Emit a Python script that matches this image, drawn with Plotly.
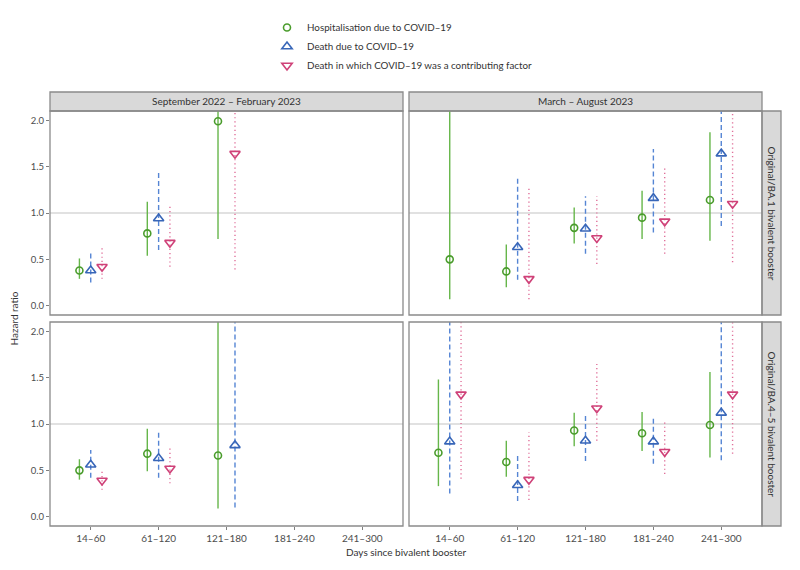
import plotly.graph_objects as go

categories = ["14–60", "61–120", "121–180", "181–240", "241–300"]
periods = ["September 2022 – February 2023", "March – August 2023"]
boosters = ["Original/BA.1 bivalent booster", "Original/BA.4–5 bivalent booster"]
outcomes = ["Hospitalisation due to COVID–19", "Death due to COVID–19",
            "Death in which COVID–19 was a contributing factor"]

# ---- Original/BA.1, September 2022 – February 2023
ba1_p1_hosp_hr = [0.38, 0.78, 1.99, None, None]
ba1_p1_hosp_lo = [0.29, 0.54, 0.72, None, None]
ba1_p1_hosp_hi = [0.51, 1.12, 2.60, None, None]
ba1_p1_death_hr = [0.38, 0.94, None, None, None]
ba1_p1_death_lo = [0.25, 0.60, None, None, None]
ba1_p1_death_hi = [0.57, 1.46, None, None, None]
ba1_p1_contrib_hr = [0.42, 0.68, 1.64, None, None]
ba1_p1_contrib_lo = [0.29, 0.42, 0.39, None, None]
ba1_p1_contrib_hi = [0.62, 1.10, 2.60, None, None]

# ---- Original/BA.1, March – August 2023
ba1_p2_hosp_hr = [0.50, 0.37, 0.84, 0.95, 1.14]
ba1_p2_hosp_lo = [0.07, 0.20, 0.67, 0.72, 0.70]
ba1_p2_hosp_hi = [2.60, 0.66, 1.06, 1.24, 1.87]
ba1_p2_death_hr = [None, 0.63, 0.83, 1.16, 1.64]
ba1_p2_death_lo = [None, 0.28, 0.56, 0.79, 0.86]
ba1_p2_death_hi = [None, 1.37, 1.18, 1.69, 2.60]
ba1_p2_contrib_hr = [None, 0.29, 0.73, 0.91, 1.10]
ba1_p2_contrib_lo = [None, 0.07, 0.45, 0.56, 0.47]
ba1_p2_contrib_hi = [None, 1.27, 1.18, 1.48, 2.60]

# ---- Original/BA.4–5, September 2022 – February 2023
ba45_p1_hosp_hr = [0.50, 0.68, 0.66, None, None]
ba45_p1_hosp_lo = [0.40, 0.49, 0.09, None, None]
ba45_p1_hosp_hi = [0.62, 0.95, 2.60, None, None]
ba45_p1_death_hr = [0.56, 0.63, 0.77, None, None]
ba45_p1_death_lo = [0.42, 0.42, 0.10, None, None]
ba45_p1_death_hi = [0.72, 0.91, 2.60, None, None]
ba45_p1_contrib_hr = [0.39, 0.52, None, None, None]
ba45_p1_contrib_lo = [0.29, 0.36, None, None, None]
ba45_p1_contrib_hi = [0.50, 0.76, None, None, None]

# ---- Original/BA.4–5, March – August 2023
ba45_p2_hosp_hr = [0.69, 0.59, 0.93, 0.90, 0.99]
ba45_p2_hosp_lo = [0.33, 0.43, 0.76, 0.71, 0.64]
ba45_p2_hosp_hi = [1.48, 0.82, 1.12, 1.13, 1.56]
ba45_p2_death_hr = [0.81, 0.34, 0.82, 0.81, 1.12]
ba45_p2_death_lo = [0.25, 0.17, 0.60, 0.57, 0.61]
ba45_p2_death_hi = [2.60, 0.66, 1.11, 1.09, 2.60]
ba45_p2_contrib_hr = [1.32, 0.40, 1.17, 0.70, 1.32]
ba45_p2_contrib_lo = [0.41, 0.18, 0.82, 0.46, 0.68]
ba45_p2_contrib_hi = [2.60, 0.91, 1.65, 1.04, 2.60]

panels = {
    (0, 0): [(ba1_p1_hosp_hr, ba1_p1_hosp_lo, ba1_p1_hosp_hi),
             (ba1_p1_death_hr, ba1_p1_death_lo, ba1_p1_death_hi),
             (ba1_p1_contrib_hr, ba1_p1_contrib_lo, ba1_p1_contrib_hi)],
    (0, 1): [(ba1_p2_hosp_hr, ba1_p2_hosp_lo, ba1_p2_hosp_hi),
             (ba1_p2_death_hr, ba1_p2_death_lo, ba1_p2_death_hi),
             (ba1_p2_contrib_hr, ba1_p2_contrib_lo, ba1_p2_contrib_hi)],
    (1, 0): [(ba45_p1_hosp_hr, ba45_p1_hosp_lo, ba45_p1_hosp_hi),
             (ba45_p1_death_hr, ba45_p1_death_lo, ba45_p1_death_hi),
             (ba45_p1_contrib_hr, ba45_p1_contrib_lo, ba45_p1_contrib_hi)],
    (1, 1): [(ba45_p2_hosp_hr, ba45_p2_hosp_lo, ba45_p2_hosp_hi),
             (ba45_p2_death_hr, ba45_p2_death_lo, ba45_p2_death_hi),
             (ba45_p2_contrib_hr, ba45_p2_contrib_lo, ba45_p2_contrib_hi)],
}

marker_colors = ["#4a9c2c", "#3866b8", "#cf4178"]
line_colors = ["#66b64a", "#5585d4", "#e0709a"]
symbols = ["circle-open", "triangle-up-open", "triangle-down-open"]
marker_sizes = [7, 9, 9]
dashes = ["solid", "5px,3px", "1.2px,3px"]

FONT = "Lato, Open Sans, sans-serif"
GREY_TXT = "#4d4d4d"

W, H = 800, 570
OFF = 8  # page body margin in the browser
def px_x(p): return (p - OFF) / W
def px_y(p): return (H - (p - OFF)) / H

xdom = [[px_x(50), px_x(403)], [px_x(409), px_x(762)]]
ydom = [[px_y(315), px_y(111)], [px_y(526), px_y(322)]]

fig = go.Figure()
dodge_w = 0.5

axis_ids = {}
k = 0
for r in range(2):
    for c in range(2):
        k += 1
        axis_ids[(r, c)] = k

for (r, c), series in panels.items():
    k = axis_ids[(r, c)]
    xa = "x" if k == 1 else f"x{k}"
    ya = "y" if k == 1 else f"y{k}"
    npres = [sum(1 for s in series if s[0][i] is not None) for i in range(len(categories))]
    for j, (hr, lo, hi) in enumerate(series):
        xs, ys, lx, ly = [], [], [], []
        for i in range(len(categories)):
            if hr[i] is None:
                continue
            present = [jj for jj, s in enumerate(series) if s[0][i] is not None]
            idx = present.index(j)
            n = npres[i]
            xpos = (i + 1) + (idx - (n - 1) / 2) * dodge_w / n
            xs.append(xpos); ys.append(hr[i])
            lx += [xpos, xpos, None]; ly += [lo[i], hi[i], None]
        fig.add_trace(go.Scatter(x=lx, y=ly, mode="lines", xaxis=xa, yaxis=ya,
                                 line=dict(color=line_colors[j], width=1.4, dash=dashes[j]),
                                 showlegend=False, hoverinfo="skip"))
        fig.add_trace(go.Scatter(x=xs, y=ys, mode="markers", xaxis=xa, yaxis=ya,
                                 marker=dict(symbol=symbols[j], size=marker_sizes[j],
                                             color=marker_colors[j],
                                             line=dict(width=1.6, color=marker_colors[j])),
                                 name=outcomes[j], legendgroup=outcomes[j],
                                 showlegend=(k == 1)))

layout = dict(
    width=W, height=H, plot_bgcolor="white", paper_bgcolor="white",
    margin=dict(l=0, r=0, t=0, b=0, autoexpand=False),
    font=dict(family=FONT, size=10, color=GREY_TXT),
    legend=dict(x=px_x(267), y=px_y(13), xanchor="left", yanchor="top",
                font=dict(size=9.8, color="#333333"), bgcolor="rgba(0,0,0,0)",
                tracegroupgap=0, itemwidth=30),
    showlegend=True,
)
for (r, c), k in axis_ids.items():
    xkey = "xaxis" if k == 1 else f"xaxis{k}"
    ykey = "yaxis" if k == 1 else f"yaxis{k}"
    layout[xkey] = dict(domain=xdom[c], range=[0.4, 5.6], anchor=("y" if k == 1 else f"y{k}"),
                        tickvals=list(range(1, 6)), ticktext=categories,
                        showticklabels=(r == 1), ticks="outside" if r == 1 else "",
                        ticklen=3, tickcolor="#7f7f7f", showgrid=False, zeroline=False,
                        tickfont=dict(size=10, color=GREY_TXT), automargin=False,
                        showline=False)
    layout[ykey] = dict(domain=ydom[r], range=[-0.1, 2.1], anchor=("x" if k == 1 else f"x{k}"),
                        tickvals=[0, 0.5, 1, 1.5, 2], ticktext=["0.0", "0.5", "1.0", "1.5", "2.0"],
                        showticklabels=(c == 0), ticks="outside" if c == 0 else "",
                        ticklen=3, tickcolor="#7f7f7f", showgrid=False, zeroline=False,
                        tickfont=dict(size=9.5, color=GREY_TXT), automargin=False,
                        showline=False)
fig.update_layout(**layout)

shapes = []
annotations = []
for (r, c), k in axis_ids.items():
    xa = "x" if k == 1 else f"x{k}"
    ya = "y" if k == 1 else f"y{k}"
    shapes.append(dict(type="line", xref=f"{xa} domain", yref=ya, x0=0, x1=1, y0=1, y1=1,
                       line=dict(color="#c4c4c4", width=1.1), layer="below"))
    shapes.append(dict(type="rect", xref="paper", yref="paper",
                       x0=xdom[c][0], x1=xdom[c][1], y0=ydom[r][0], y1=ydom[r][1],
                       line=dict(color="#8a8a8a", width=1.3), fillcolor="rgba(0,0,0,0)",
                       layer="above"))

for c in range(2):
    shapes.append(dict(type="rect", xref="paper", yref="paper",
                       x0=xdom[c][0], x1=xdom[c][1], y0=ydom[0][1], y1=px_y(92),
                       line=dict(color="#8a8a8a", width=1.3), fillcolor="#d9d9d9", layer="below"))
    annotations.append(dict(text=periods[c], xref="paper", yref="paper",
                            x=(xdom[c][0] + xdom[c][1]) / 2, y=(ydom[0][1] + px_y(92)) / 2,
                            showarrow=False, font=dict(size=10, color="#333333"),
                            xanchor="center", yanchor="middle"))
for r in range(2):
    shapes.append(dict(type="rect", xref="paper", yref="paper",
                       x0=xdom[1][1], x1=px_x(781), y0=ydom[r][0], y1=ydom[r][1],
                       line=dict(color="#8a8a8a", width=1.3), fillcolor="#d9d9d9", layer="below"))
    annotations.append(dict(text=boosters[r], xref="paper", yref="paper",
                            x=(xdom[1][1] + px_x(781)) / 2, y=(ydom[r][0] + ydom[r][1]) / 2,
                            showarrow=False, textangle=90, font=dict(size=10, color="#333333"),
                            xanchor="center", yanchor="middle"))

annotations.append(dict(text="Hazard ratio", xref="paper", yref="paper", x=px_x(13),
                        y=(ydom[0][1] + ydom[1][0]) / 2, showarrow=False, textangle=-90,
                        font=dict(size=10, color="#333333"), xanchor="center", yanchor="middle"))
annotations.append(dict(text="Days since bivalent booster", xref="paper", yref="paper",
                        x=(xdom[0][0] + xdom[1][1]) / 2, y=px_y(552), showarrow=False,
                        font=dict(size=10, color="#333333"), xanchor="center", yanchor="middle"))

fig.update_layout(shapes=shapes, annotations=annotations)
fig.write_html("out.html")
